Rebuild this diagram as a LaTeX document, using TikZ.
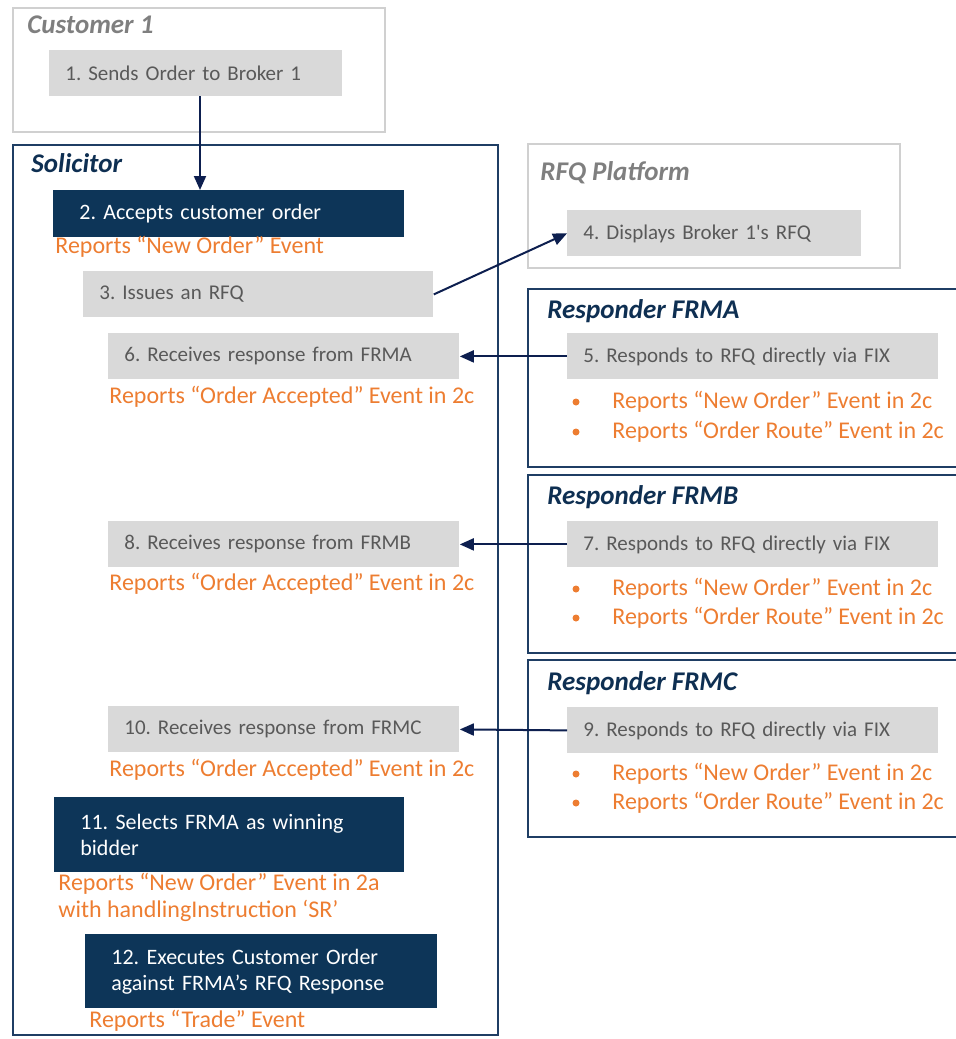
\documentclass[tikz,border=0pt]{standalone}
\usepackage{fontspec}
\setmainfont{Carlito}
\usetikzlibrary{arrows.meta}
\frenchspacing

\definecolor{lanegray}{RGB}{208,208,208}
\definecolor{lanenavy}{RGB}{31,62,100}
\definecolor{titlegray}{RGB}{127,127,127}
\definecolor{titlenavy}{RGB}{14,47,82}
\definecolor{boxgray}{RGB}{217,217,217}
\definecolor{textgray}{RGB}{89,89,89}
\definecolor{boxnavy}{RGB}{13,53,88}
\definecolor{repo}{RGB}{237,125,49}
\definecolor{arrownavy}{RGB}{13,31,79}

\tikzset{
  lane/.style={draw=lanegray, line width=1pt},
  actor/.style={draw=lanenavy, line width=1.3pt},
  lanetitle/.style={font=\fontsize{13.5}{15}\selectfont\bfseries\itshape, anchor=west, inner sep=0pt},
  stepgray/.style={fill=boxgray, text=textgray, font=\fontsize{10.5}{13}\selectfont, anchor=north west,
    align=left, inner ysep=0pt, inner xsep=8pt, minimum height=23pt},
  stepnavy/.style={fill=boxnavy, text=white, font=\fontsize{11}{13}\selectfont, anchor=north west,
    align=left, inner ysep=0pt, inner xsep=13pt},
  report/.style={text=repo, font=\fontsize{12}{13.5}\selectfont, anchor=west, inner sep=0pt, align=left},
  dot/.style={circle, fill=repo, inner sep=0pt, minimum size=3.5pt},
  flow/.style={draw=arrownavy, line width=1pt, -{Triangle[length=7pt,width=6pt]}}
}

\begin{document}
\begin{tikzpicture}[x=0.5pt, y=-0.5pt]
    \useasboundingbox (0,0) rectangle (956,1039);
    % Lanes
    \draw[lane] (13,8) rectangle (385,132);
    \draw[lane] (528,144) rectangle (900,268);
    \draw[actor] (13,145) rectangle (498,1035);
    \draw[actor] (528,289) rectangle (966,467);
    \draw[actor] (528,475) rectangle (966,653);
    \draw[actor] (528,660) rectangle (966,837);
    % Lane titles
    \node[lanetitle, text=titlegray] (tcust) at (27,25) {Customer 1};
    \node[lanetitle, text=titlenavy] (tsol) at (31,163) {Solicitor};
    \node[lanetitle, text=titlegray] (trfq) at (540,173) {RFQ Platform};
    \node[lanetitle, text=titlenavy] (tfrma) at (547,311) {Responder FRMA};
    \node[lanetitle, text=titlenavy] (tfrmb) at (547,497) {Responder FRMB};
    \node[lanetitle, text=titlenavy] (tfrmc) at (547,683) {Responder FRMC};
    % Customer
    \node[stepgray, text width=130.5pt, inner xsep=8pt] (b1) at (49,50) {1. Sends Order to Broker 1};
    \coordinate (c1) at (200,96);
    % Solicitor steps
    \node[stepnavy, text width=149.5pt, minimum height=23.5pt] (b2) at (53,190) {2. Accepts customer order};
    \node[report] (r2) at (55,247) {Reports “New Order” Event};
    \node[stepgray, text width=159pt] (b3) at (83,271) {3. Issues an RFQ};
    \node[stepgray, text width=159.5pt] (b6) at (108,333) {6. Receives response from FRMA};
    \node[report] (r6) at (109,397) {Reports “Order Accepted” Event in 2c};
    \node[stepgray, text width=159.5pt] (b8) at (108,521) {8. Receives response from FRMB};
    \node[report] (r8) at (109,584) {Reports “Order Accepted” Event in 2c};
    \node[stepgray, text width=159.5pt] (b10) at (108,706) {10. Receives response from FRMC};
    \node[report] (r10) at (109,770) {Reports “Order Accepted” Event in 2c};
    \node[stepnavy, text width=149pt, minimum height=37.5pt] (b11) at (54,797) {11. Selects FRMA as winning\\bidder};
    \node[report] (r11) at (58,897) {Reports “New Order” Event in 2a\\with handlingInstruction ‘SR’};
    \node[stepnavy, text width=150pt, minimum height=37pt] (b12) at (85,934) {12. Executes Customer Order\\against FRMA’s RFQ Response};
    \node[report] (r12) at (89,1021) {Reports “Trade” Event};
    % RFQ platform
    \node[stepgray, text width=131pt] (b4) at (567,210) {4. Displays Broker 1\textquotesingle s RFQ};
    % Responders
    \node[stepgray, text width=169.5pt] (b5) at (567,333) {5. Responds to RFQ directly via FIX};
    \node[dot] (d5a) at (576,402) {};
    \node[report] (r5a) at (612,402) {Reports “New Order” Event in 2c};
    \node[dot] (d5b) at (576,432) {};
    \node[report] (r5b) at (612,432) {Reports “Order Route” Event in 2c};
    \node[stepgray, text width=169.5pt] (b7) at (567,521) {7. Responds to RFQ directly via FIX};
    \node[dot] (d7a) at (576,589) {};
    \node[report] (r7a) at (612,589) {Reports “New Order” Event in 2c};
    \node[dot] (d7b) at (576,618) {};
    \node[report] (r7b) at (612,618) {Reports “Order Route” Event in 2c};
    \node[stepgray, text width=169.5pt] (b9) at (567,707) {9. Responds to RFQ directly via FIX};
    \node[dot] (d9a) at (576,774) {};
    \node[report] (r9a) at (612,774) {Reports “New Order” Event in 2c};
    \node[dot] (d9b) at (576,803) {};
    \node[report] (r9b) at (612,803) {Reports “Order Route” Event in 2c};
    % Flows
    \draw[flow] (c1) -- (c1 |- b2.north);
    \draw[flow] (b3.east) -- (b4.west);
    \draw[flow] (b5.west) -- (b6.east);
    \draw[flow] (b7.west) -- (b8.east);
    \draw[flow] (b9.west) -- (b10.east);
\end{tikzpicture}
\end{document}
